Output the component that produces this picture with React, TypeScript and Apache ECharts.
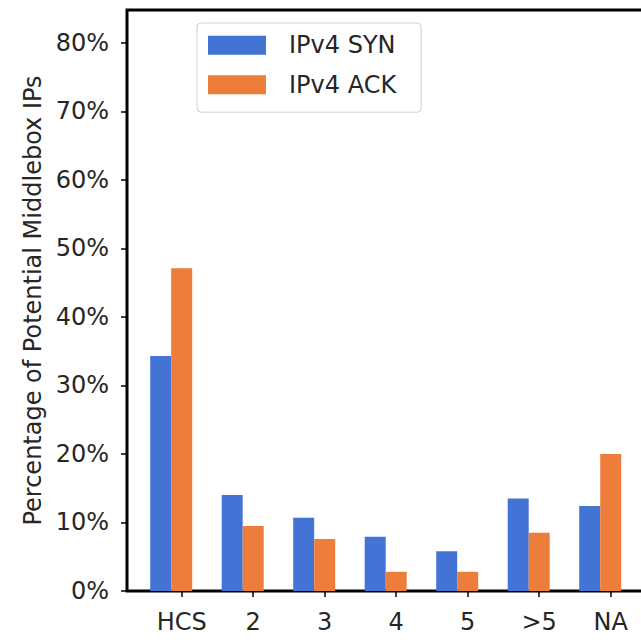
import React, { useEffect, useRef } from "react";
import * as echarts from "echarts";

const categories = ["HCS", "2", "3", "4", "5", ">5", "NA"];
const synValues = [34.3, 14.0, 10.7, 7.9, 5.8, 13.5, 12.4];
const ackValues = [47.1, 9.5, 7.6, 2.8, 2.8, 8.5, 20.0];
const seriesNames = ["IPv4 SYN", "IPv4 ACK"];
const yTickStep = 10;

const FONT = "DejaVu Sans";
const TEXT = "#262626";

export default function App() {
  const ref = useRef<HTMLDivElement>(null);
  useEffect(() => {
    if (!ref.current) return;
    const chart = echarts.init(ref.current, undefined, { renderer: "svg" });
    const yMax = 84.8;
    chart.setOption({
      animation: false,
      backgroundColor: "#fff",
      textStyle: { fontFamily: FONT },
      grid: [
        {
          left: 127,
          top: 10,
          width: 518,
          height: 581,
          show: true,
          borderColor: "#000",
          borderWidth: 3,
          backgroundColor: "transparent",
        },
        { left: 145.95, top: 10, width: 500.5, height: 581 },
      ],
      legend: {
        data: seriesNames,
        orient: "vertical",
        left: 197,
        top: 23,
        icon: "rect",
        itemWidth: 58,
        itemHeight: 19,
        itemGap: 15.5,
        padding: [10.2, 25, 15.5, 11],
        backgroundColor: "rgba(255,255,255,0.85)",
        borderColor: "#d0d0d0",
        borderWidth: 1,
        borderRadius: 4,
        textStyle: {
          fontFamily: FONT,
          fontSize: 24,
          lineHeight: 24,
          color: TEXT,
          padding: [0, 0, 0, 18],
        },
      },
      xAxis: [
        {
          type: "value",
          gridIndex: 0,
          show: false,
        },
        {
          type: "category",
          gridIndex: 1,
          data: categories,
          axisLine: { show: false },
          axisTick: {
            show: true,
            alignWithLabel: true,
            length: 6,
            lineStyle: { color: "#000", width: 1.5 },
          },
          axisLabel: {
            fontFamily: FONT,
            fontSize: 24,
            color: TEXT,
            margin: 19,
          },
        },
      ],
      yAxis: [
        {
          type: "value",
          gridIndex: 0,
          min: 0,
          max: yMax,
          interval: yTickStep,
          axisLine: { show: false },
          splitLine: { show: false },
          axisTick: {
            show: true,
            length: 6,
            lineStyle: { color: "#000", width: 1.5 },
          },
          axisLabel: {
            fontFamily: FONT,
            fontSize: 24,
            color: TEXT,
            margin: 18,
            formatter: "{value}%",
            showMaxLabel: false,
          },
          name: "Percentage of Potential Middlebox IPs",
          nameLocation: "middle",
          nameGap: 75,
          nameRotate: 90,
          nameTextStyle: { fontFamily: FONT, fontSize: 24, color: TEXT },
        },
        {
          type: "value",
          gridIndex: 1,
          min: 0,
          max: yMax,
          show: false,
        },
      ],
      series: [
        {
          name: seriesNames[0],
          type: "bar",
          xAxisIndex: 1,
          yAxisIndex: 1,
          data: synValues,
          barWidth: 21,
          barGap: "0%",
          itemStyle: { color: "#4473D6" },
        },
        {
          name: seriesNames[1],
          type: "bar",
          xAxisIndex: 1,
          yAxisIndex: 1,
          data: ackValues,
          barWidth: 21,
          barGap: "0%",
          itemStyle: { color: "#ED7D3A" },
        },
        {
          name: "spacer",
          type: "bar",
          xAxisIndex: 1,
          yAxisIndex: 1,
          data: categories.map(() => null),
          barWidth: 21,
          barGap: "0%",
          silent: true,
        },
      ],
    });
    return () => chart.dispose();
  }, []);
  return (
    <div
      style={{
        position: "absolute",
        left: 0,
        top: 0,
        width: 641,
        height: 640,
        overflow: "hidden",
      }}
    >
      <div ref={ref} style={{ width: 670, height: 640 }} />
    </div>
  );
}
